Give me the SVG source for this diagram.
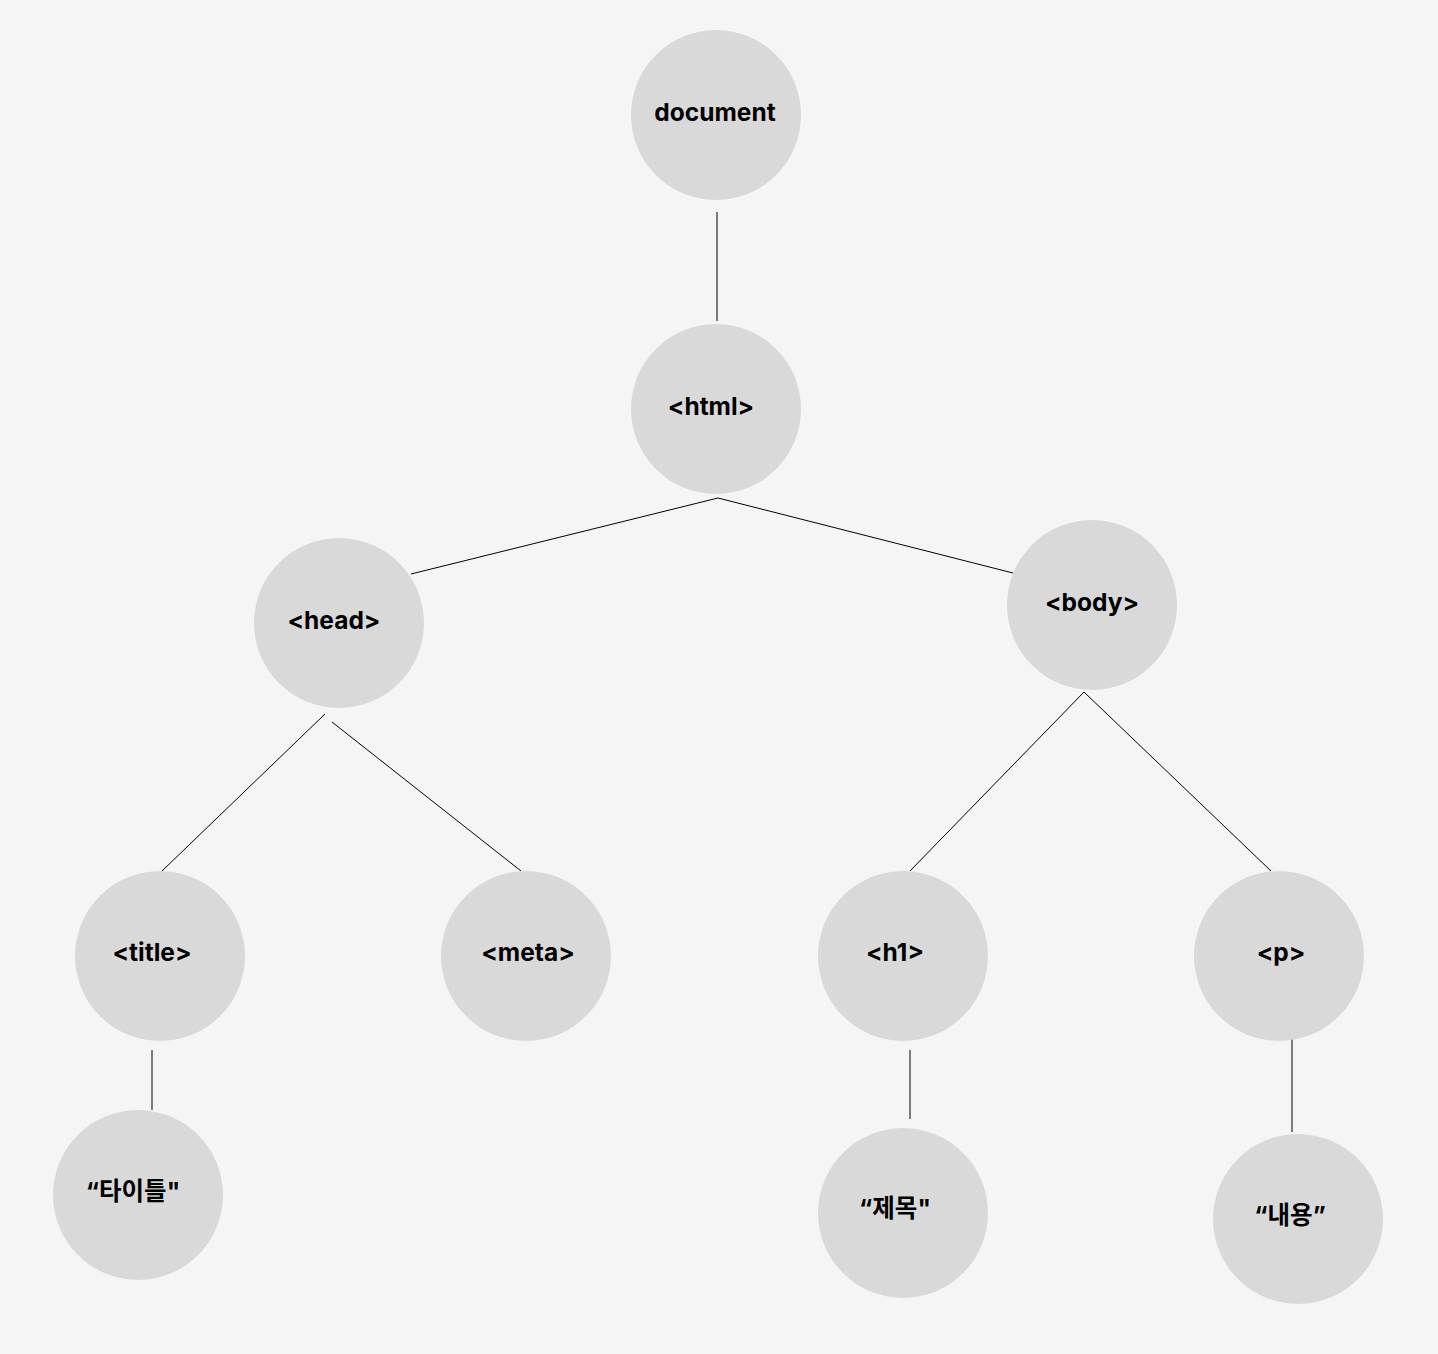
<svg xmlns="http://www.w3.org/2000/svg" width="1438" height="1354" viewBox="0 0 1438 1354">
<style>
.n{fill:#d9d9d9}
.t{font-family:Inter,"Noto Sans CJK KR","Liberation Sans",sans-serif;font-weight:700;font-size:24.5px;fill:#000;text-anchor:middle;dominant-baseline:central}
.c{stroke:#000;stroke-width:1;fill:none}
</style>
<rect width="1438" height="1354" fill="#f5f5f5"/>
<g id="connectors">
<line class="c" x1="717" y1="212" x2="717" y2="321"/>
<line class="c" x1="718" y1="498" x2="411" y2="574"/>
<line class="c" x1="718" y1="498" x2="1013" y2="573"/>
<line class="c" x1="325" y1="714" x2="162" y2="871"/>
<line class="c" x1="332" y1="722" x2="521" y2="871"/>
<line class="c" x1="1084" y1="692" x2="910" y2="871"/>
<line class="c" x1="1084" y1="692" x2="1271" y2="871"/>
<line class="c" x1="152" y1="1050" x2="152" y2="1110"/>
<line class="c" x1="910" y1="1050" x2="910" y2="1119"/>
<line class="c" x1="1292" y1="1038" x2="1292" y2="1132"/>
</g>
<g id="document"><circle class="n" cx="716" cy="115" r="85"/><text class="t" x="715" y="112">document</text></g>
<g id="html"><circle class="n" cx="716" cy="409" r="85"/><text class="t" x="711" y="406">&lt;html&gt;</text></g>
<g id="head"><circle class="n" cx="339" cy="623" r="85"/><text class="t" x="334" y="620">&lt;head&gt;</text></g>
<g id="body"><circle class="n" cx="1092" cy="605" r="85"/><text class="t" x="1092" y="602">&lt;body&gt;</text></g>
<g id="title"><circle class="n" cx="160" cy="956" r="85"/><text class="t" x="152" y="952">&lt;title&gt;</text></g>
<g id="meta"><circle class="n" cx="526" cy="956" r="85"/><text class="t" x="528" y="952">&lt;meta&gt;</text></g>
<g id="h1"><circle class="n" cx="903" cy="956" r="85"/><text class="t" x="895" y="952">&lt;h1&gt;</text></g>
<g id="p"><circle class="n" cx="1279" cy="956" r="85"/><text class="t" x="1281" y="952">&lt;p&gt;</text></g>
<g id="title-text"><circle class="n" cx="138" cy="1195" r="85"/><text class="t" x="133" y="1191">“타이틀"</text></g>
<g id="h1-text"><circle class="n" cx="903" cy="1213" r="85"/><text class="t" x="895" y="1208">“제목"</text></g>
<g id="p-text"><circle class="n" cx="1298" cy="1219" r="85"/><text class="t" x="1290" y="1215">“내용”</text></g>
</svg>
